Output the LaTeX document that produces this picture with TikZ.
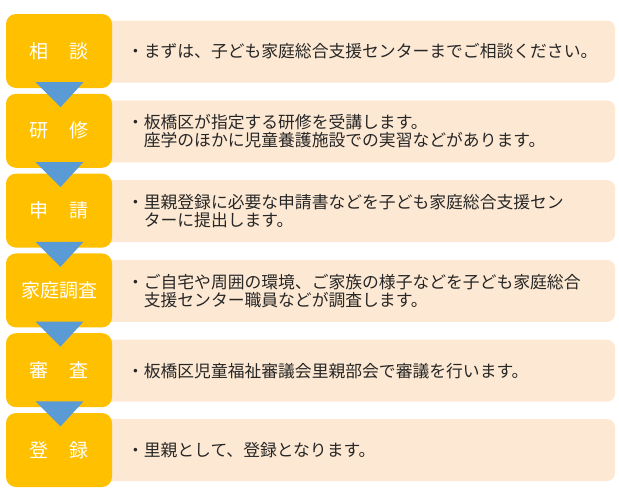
\documentclass[tikz,border=0pt]{standalone}
\usepackage{fontspec}
\setmainfont{Noto Sans CJK JP}
\definecolor{stepgold}{HTML}{FFC000}
\definecolor{stepblue}{HTML}{5B9BD5}
\definecolor{notepeach}{HTML}{FDE9D3}
\definecolor{notetext}{HTML}{262626}
\begin{document}
\begin{tikzpicture}[x=1pt,y=-1pt,
	stepbox/.style={fill=stepgold,rounded corners=10pt,minimum width=106pt,minimum height=74pt,inner sep=0pt,text=white,font=\fontsize{19}{21}\selectfont},
	notebox/.style={fill=notepeach,rounded corners=8pt,minimum width=515pt,minimum height=62pt,inner sep=0pt},
	notetxt/.style={anchor=west,align=left,inner sep=0pt,text=notetext,font=\fontsize{16.8}{18.5}\selectfont},
	downtri/.style={fill=stepblue}]
	\useasboundingbox (0,0) rectangle (619,501);
	
	\node[notebox] (N1) at(357.5,51.5) {};
	\node[notebox] (N2) at(357.5,131.3) {};
	\node[notebox] (N3) at(357.5,211.1) {};
	\node[notebox] (N4) at(357.5,290.9) {};
	\node[notebox] (N5) at(357.5,370.7) {};
	\node[notebox] (N6) at(357.5,450) {};
	
	\node[stepbox] (S1) at(59,51) {相\hspace{1.1em}談};
	\node[stepbox] (S2) at(59,130.8) {研\hspace{1.1em}修};
	\node[stepbox] (S3) at(59,210.6) {申\hspace{1.1em}請};
	\node[stepbox] (S4) at(59,290.4) {家庭調査};
	\node[stepbox] (S5) at(59,370.2) {審\hspace{1.1em}査};
	\node[stepbox] (S6) at(59,450) {登\hspace{1.1em}録};
	
	\node[notetxt] (T1) at([xshift=27pt]N1.west) {・まずは、子ども家庭総合支援センターまでご相談ください。};
	\node[notetxt] (T2) at([xshift=27pt]N2.west) {・板橋区が指定する研修を受講します。\\\hspace{1em}座学のほかに児童養護施設での実習などがあります。};
	\node[notetxt] (T3) at([xshift=27pt]N3.west) {・里親登録に必要な申請書などを子ども家庭総合支援セン\\\hspace{1em}ターに提出します。};
	\node[notetxt] (T4) at([xshift=27pt]N4.west) {・ご自宅や周囲の環境、ご家族の様子などを子ども家庭総合\\\hspace{1em}支援センター職員などが調査します。};
	\node[notetxt] (T5) at([xshift=27pt]N5.west) {・板橋区児童福祉審議会里親部会で審議を行います。};
	\node[notetxt] (T6) at([xshift=27pt]N6.west) {・里親として、登録となります。};
	
	\fill[downtri] ([xshift=-23.5,yshift=6]S1.south) -- ([xshift=24.5,yshift=6]S1.south) -- ([xshift=1.5,yshift=-19]S1.south) -- cycle;
	\fill[downtri] ([xshift=-23.5,yshift=6]S2.south) -- ([xshift=24.5,yshift=6]S2.south) -- ([xshift=1.5,yshift=-19]S2.south) -- cycle;
	\fill[downtri] ([xshift=-23.5,yshift=6]S3.south) -- ([xshift=24.5,yshift=6]S3.south) -- ([xshift=1.5,yshift=-19]S3.south) -- cycle;
	\fill[downtri] ([xshift=-23.5,yshift=6]S4.south) -- ([xshift=24.5,yshift=6]S4.south) -- ([xshift=1.5,yshift=-19]S4.south) -- cycle;
	\fill[downtri] ([xshift=-23.5,yshift=6]S5.south) -- ([xshift=24.5,yshift=6]S5.south) -- ([xshift=1.5,yshift=-19]S5.south) -- cycle;
\end{tikzpicture}
\end{document}
